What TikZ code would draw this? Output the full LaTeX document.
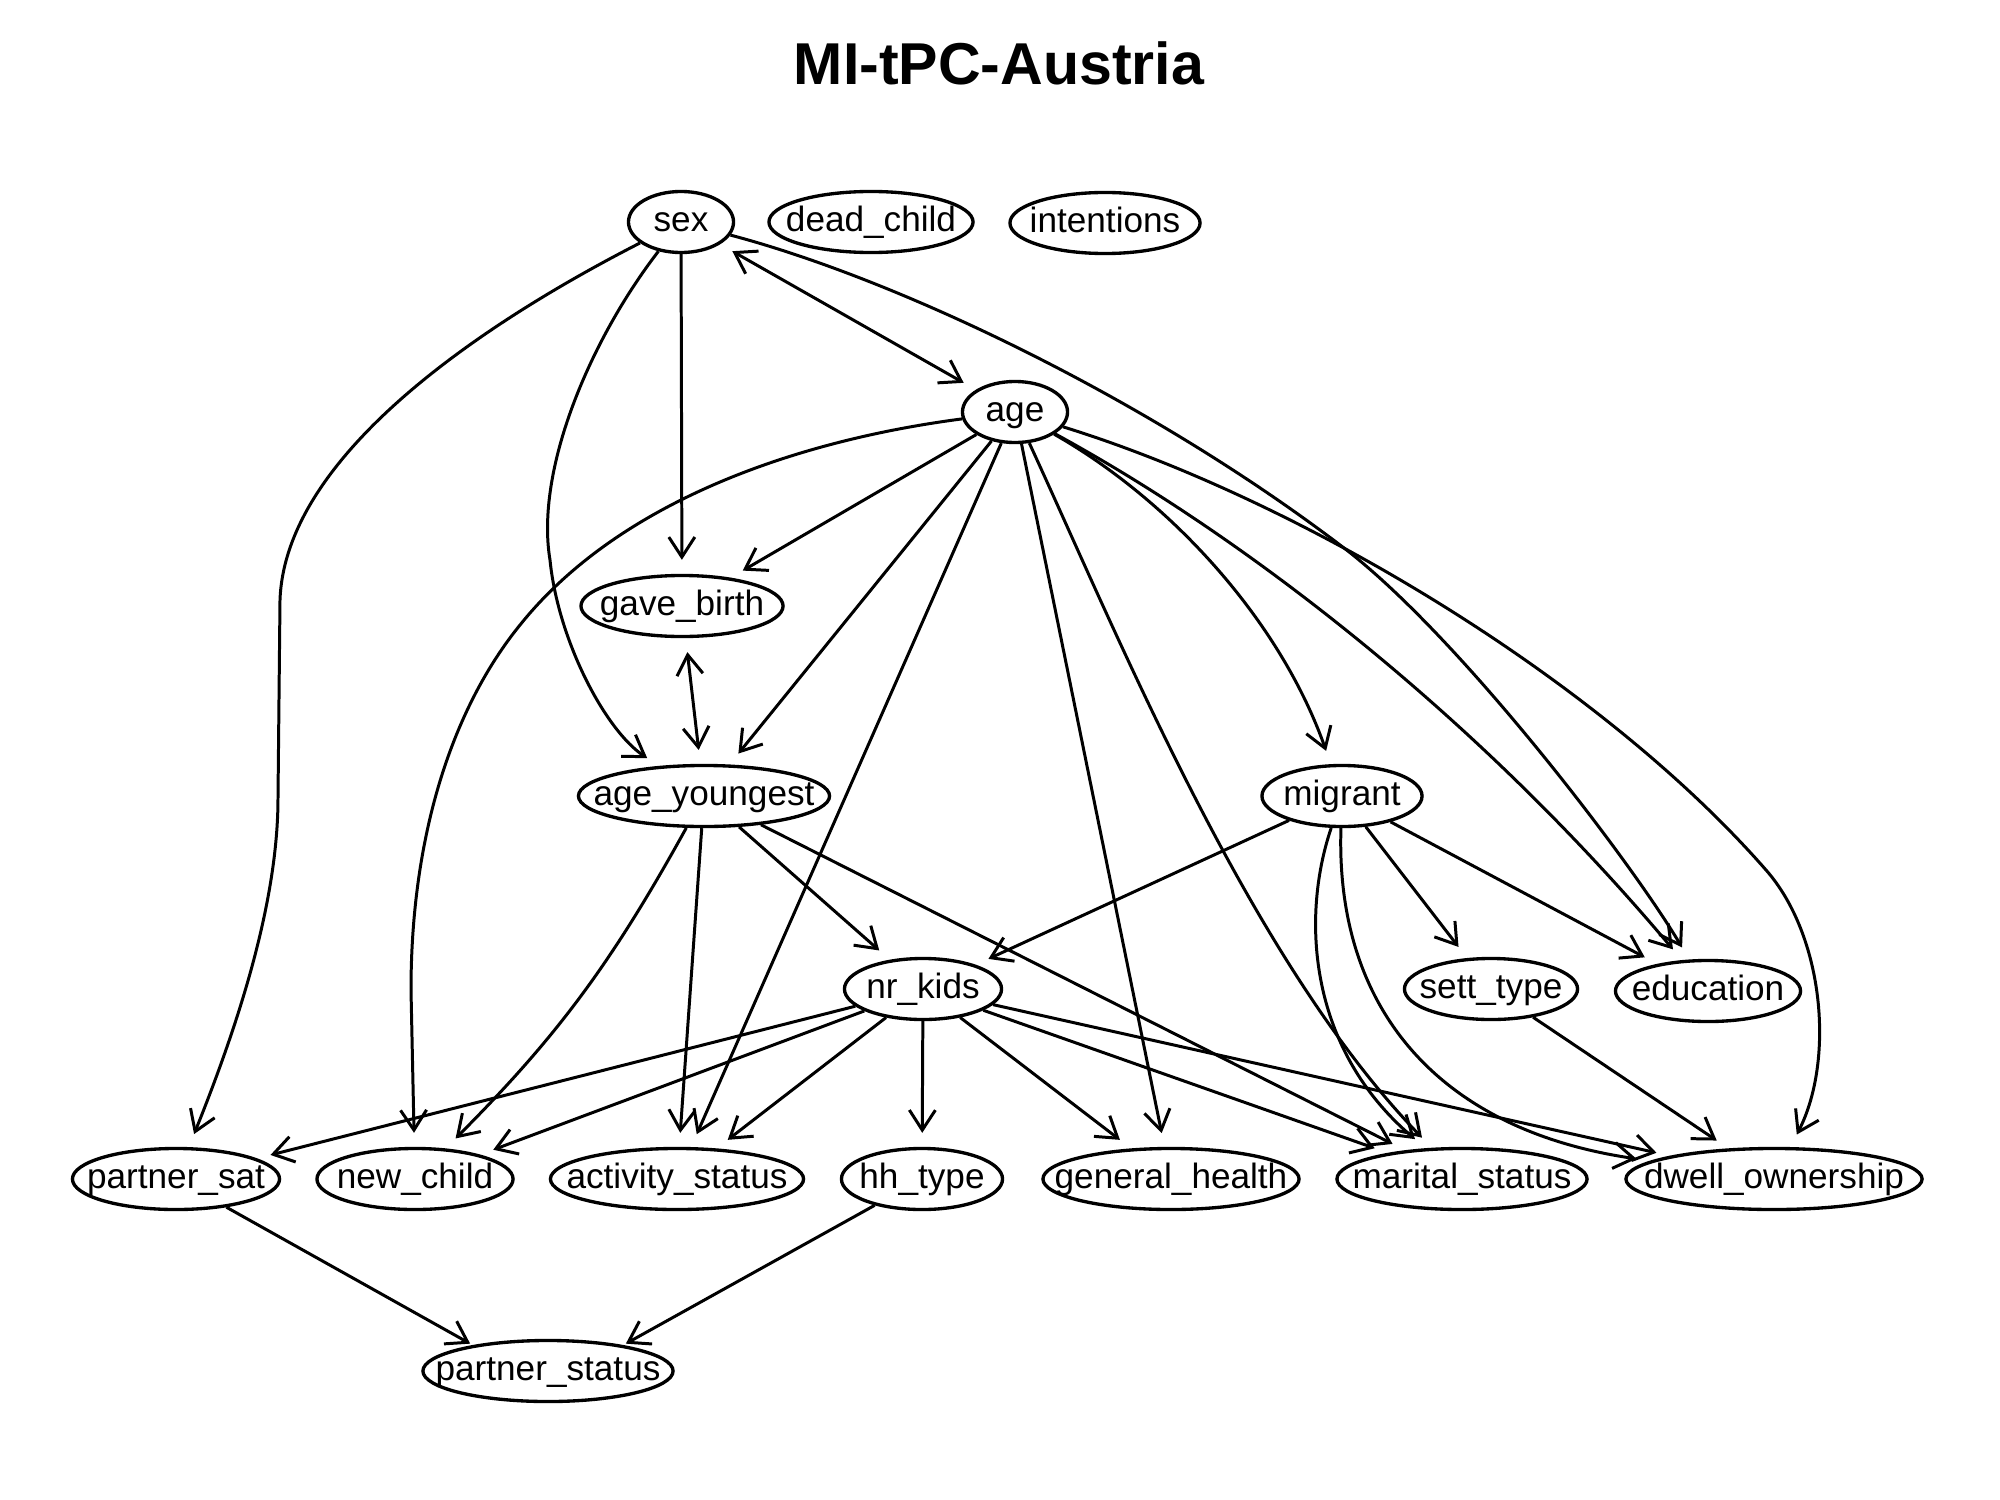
\documentclass[tikz,border=0pt]{standalone}
\usepackage{fontspec}
\setmainfont{Liberation Sans}
\usetikzlibrary{arrows.meta,shapes.geometric}
\begin{document}
\begin{tikzpicture}[x=0.01cm,y=-0.01cm,
  nd/.style={ellipse, draw, line width=0.95pt, inner xsep=-0.4cm, inner ysep=0pt,
    minimum height=0.61cm, font=\fontsize{10}{12}\selectfont, text height=7pt, text depth=1.8pt},
  arr/.style={line width=0.85pt, -{Straight Barb[length=2mm,width=2.6mm]}, shorten >=0.14cm},
  arrb/.style={line width=0.85pt, -{Straight Barb[length=2mm,width=2.6mm]}, shorten >=0.03cm},
  bi/.style={line width=0.85pt, {Straight Barb[length=2mm,width=2.6mm]}-{Straight Barb[length=2mm,width=2.6mm]},
    shorten >=0.14cm, shorten <=0.14cm}]
\useasboundingbox (0,0) rectangle (2000,1500);

\node[font=\bfseries\fontsize{16.8}{20}\selectfont, anchor=base] (title) at (999,85) {MI-tPC-Austria};

\node[nd, minimum width=1.05cm] (sex) at (681,222) {sex};
\node[nd, minimum width=2.04cm] (dead_child) at (871,222) {dead\_child};
\node[nd, minimum width=1.90cm] (intentions) at (1105,223) {intentions};
\node[nd, minimum width=1.05cm] (age) at (1015,412) {age};
\node[nd, minimum width=2.02cm] (gave_birth) at (682,606) {gave\_birth};
\node[nd, minimum width=2.51cm] (age_youngest) at (704,796) {age\_youngest};
\node[nd, minimum width=1.60cm] (migrant) at (1342,796) {migrant};
\node[nd, minimum width=1.57cm] (nr_kids) at (923,989) {nr\_kids};
\node[nd, minimum width=1.73cm] (sett_type) at (1491,989) {sett\_type};
\node[nd, minimum width=1.85cm] (education) at (1708,991) {education};
\node[nd, minimum width=2.07cm] (partner_sat) at (176,1179) {partner\_sat};
\node[nd, minimum width=1.96cm] (new_child) at (415,1179) {new\_child};
\node[nd, minimum width=2.53cm] (activity_status) at (677,1179) {activity\_status};
\node[nd, minimum width=1.61cm] (hh_type) at (922,1179) {hh\_type};
\node[nd, minimum width=2.56cm] (general_health) at (1171,1179) {general\_health};
\node[nd, minimum width=2.50cm] (marital_status) at (1462,1179) {marital\_status};
\node[nd, minimum width=2.96cm] (dwell_ownership) at (1774,1179) {dwell\_ownership};
\node[nd, minimum width=2.50cm] (partner_status) at (548,1371) {partner\_status};

% sex
\draw[arr] (sex) .. controls (470,330) and (285,460) .. (280,600) -- (278,798)
  .. controls (278,900) and (240,1020) .. (partner_sat);
\draw[arr] (sex) .. controls (590,340) and (535,470) .. (550,560)
  .. controls (558,640) and (605,730) .. (age_youngest);
\draw[arr] (sex) -- (gave_birth);
\draw[bi] (sex) -- (age);
\draw[arr] (sex) .. controls (900,280) and (1150,400) .. (1344,548)
  .. controls (1460,637) and (1630,860) .. (education);

% age
\draw[arr] (age) .. controls (800,440) and (620,500) .. (520,625)
  .. controls (455,705) and (411,830) .. (411,990) -- (new_child);
\draw[arr] (age) -- (gave_birth);
\draw[arr] (age) -- (age_youngest);
\draw[arr] (age) -- (activity_status);
\draw[arr] (age) -- (general_health);
\draw[arr] (age) .. controls (1120,640) and (1250,960) .. (marital_status);
\draw[arr] (age) .. controls (1170,500) and (1280,620) .. (migrant);
\draw[arr] (age) .. controls (1250,540) and (1480,720) .. (education);
\draw[arr] (age) .. controls (1300,500) and (1600,680) .. (1766,870)
  .. controls (1824,936) and (1835,1060) .. (dwell_ownership);

% gave_birth
\draw[bi] (gave_birth) -- (age_youngest);

% age_youngest
\draw[arr] (age_youngest) to[bend left=8] (new_child);
\draw[arr] (age_youngest) -- (activity_status);
\draw[arr] (age_youngest) -- (nr_kids);
\draw[arr] (age_youngest) -- (marital_status);

% migrant
\draw[arr] (migrant) -- (nr_kids);
\draw[arr] (migrant) .. controls (1300,920) and (1310,1050) .. (marital_status);
\draw[arr] (migrant) .. controls (1335,1010) and (1440,1130) .. (dwell_ownership);
\draw[arr] (migrant) -- (sett_type);
\draw[arr] (migrant) -- (education);

% nr_kids
\draw[arr] (nr_kids) -- (partner_sat);
\draw[arr] (nr_kids) -- (new_child);
\draw[arr] (nr_kids) -- (activity_status);
\draw[arr] (nr_kids) -- (hh_type);
\draw[arr] (nr_kids) -- (general_health);
\draw[arr] (nr_kids) -- (marital_status);
\draw[arr] (nr_kids) -- (dwell_ownership);

% others
\draw[arr] (sett_type) -- (dwell_ownership);
\draw[arrb] (partner_sat) -- (partner_status.161);
\draw[arrb] (hh_type) -- (partner_status.19);
\end{tikzpicture}
\end{document}
